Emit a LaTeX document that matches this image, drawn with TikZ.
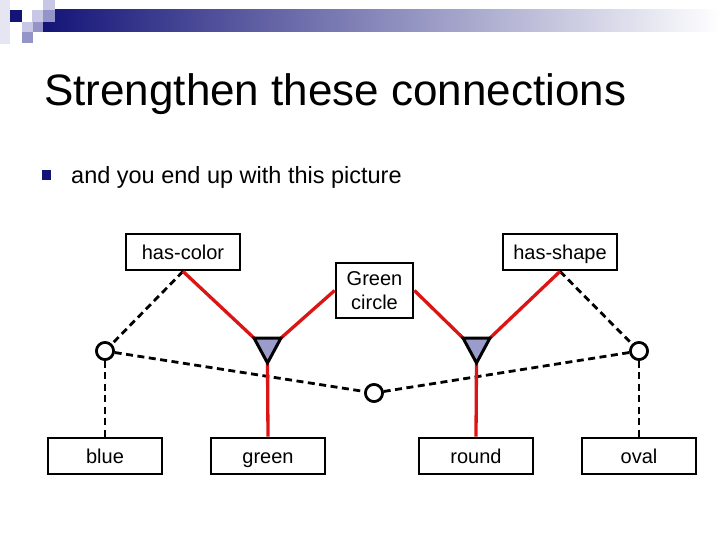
\documentclass[tikz,border=0pt]{standalone}
\usepackage{fontspec}
\setmainfont{Liberation Sans}
\definecolor{navy}{RGB}{20,20,120}
\definecolor{lav}{RGB}{200,200,230}
\definecolor{med}{RGB}{148,148,200}
\definecolor{faint}{RGB}{230,230,242}
\definecolor{redline}{RGB}{220,20,20}
\definecolor{trifill}{RGB}{156,156,204}
\begin{document}
\begin{tikzpicture}[x=1pt,y=-1pt,
  box/.style={draw,line width=2.8pt,minimum width=114pt,minimum height=36pt,inner sep=0pt,
    font=\fontsize{20}{24}\selectfont,text height=14.3pt,text depth=0pt},
  rel/.style={draw,line width=2.6pt,circle,minimum size=17pt,inner sep=0pt,fill=white},
  redc/.style={draw=redline,line width=3.3pt},
  dashc/.style={draw=black,line width=2.8pt,dash pattern=on 7pt off 4.5pt},
  tri/.style={draw=black,fill=trifill,line width=3pt,line join=miter}]
\useasboundingbox (0,0) rectangle (720,540);
% header decoration
\fill[faint] (0,0) rectangle (10,44);
\shade[left color=navy,middle color={rgb,255:red,160;green,160;blue,190},right color=white] (43,10) rectangle (720,32);
\fill[navy] (10,10) rectangle (22,22);
\fill[lav] (32,10) rectangle (43,22);
\fill[lav] (43,0) rectangle (55,10);
\fill[med] (43,10) rectangle (55,22);
\fill[lav] (22,22) rectangle (33,32);
\fill[med] (33,22) rectangle (43,32);
\fill[med] (22,32) rectangle (33,43);
% title and bullet
\node[anchor=base west,inner sep=0pt,font=\fontsize{44}{50}\selectfont] (title) at (44,106) {Strengthen these connections};
\fill[navy] (42,170) rectangle (51,180);
\node[anchor=base west,inner sep=0pt,font=\fontsize{23.5}{28}\selectfont] (bullet) at (71,184) {and you end up with this picture};
% boxes
\node[box] (hc) at (183,252) {has-color};
\node[box] (hs) at (560,252) {has-shape};
\node[draw,line width=2.8pt,minimum width=77pt,minimum height=55pt,inner sep=0pt,align=center,
  font=\fontsize{20}{24}\selectfont] (gc) at (374.5,290.5) {Green\\circle};
\node[box] (blue) at (105,456) {blue};
\node[box] (green) at (268,456) {green};
\node[box] (round) at (476,456) {round};
\node[box] (oval) at (639,456) {oval};
% relation circles
\node[rel] (c1) at (105,351) {};
\node[rel] (c2) at (374,393) {};
\node[rel] (c3) at (639,351) {};
% triangle corners
\coordinate (a1) at (254,338);
\coordinate (a2) at (281,338);
\coordinate (a3) at (267.5,363);
\coordinate (b1) at (463,338);
\coordinate (b2) at (490,338);
\coordinate (b3) at (476.5,363);
% dashed connectors
\draw[dashc] (hc.south) -- (c1);
\draw[dashc] (c1) -- (blue.north);
\draw[dashc] (c1) -- (c2);
\draw[dashc] (c2) -- (c3);
\draw[dashc] (hs.south) -- (c3);
\draw[dashc] (c3) -- (oval.north);
% red connectors
\draw[redc] (hc.south) -- (a1);
\draw[redc] (a2) -- (gc.west);
\draw[redc] (gc.east) -- (b1);
\draw[redc] (b2) -- (hs.south);
\draw[redc] (a3) -- (green.north);
\draw[redc] (b3) -- (round.north);
% triangles
\draw[tri] (a1) -- (a2) -- (a3) -- cycle;
\draw[tri] (b1) -- (b2) -- (b3) -- cycle;
% redraw circles on top
\node[rel] at (c1) {};
\node[rel] at (c2) {};
\node[rel] at (c3) {};
\end{tikzpicture}
\end{document}
